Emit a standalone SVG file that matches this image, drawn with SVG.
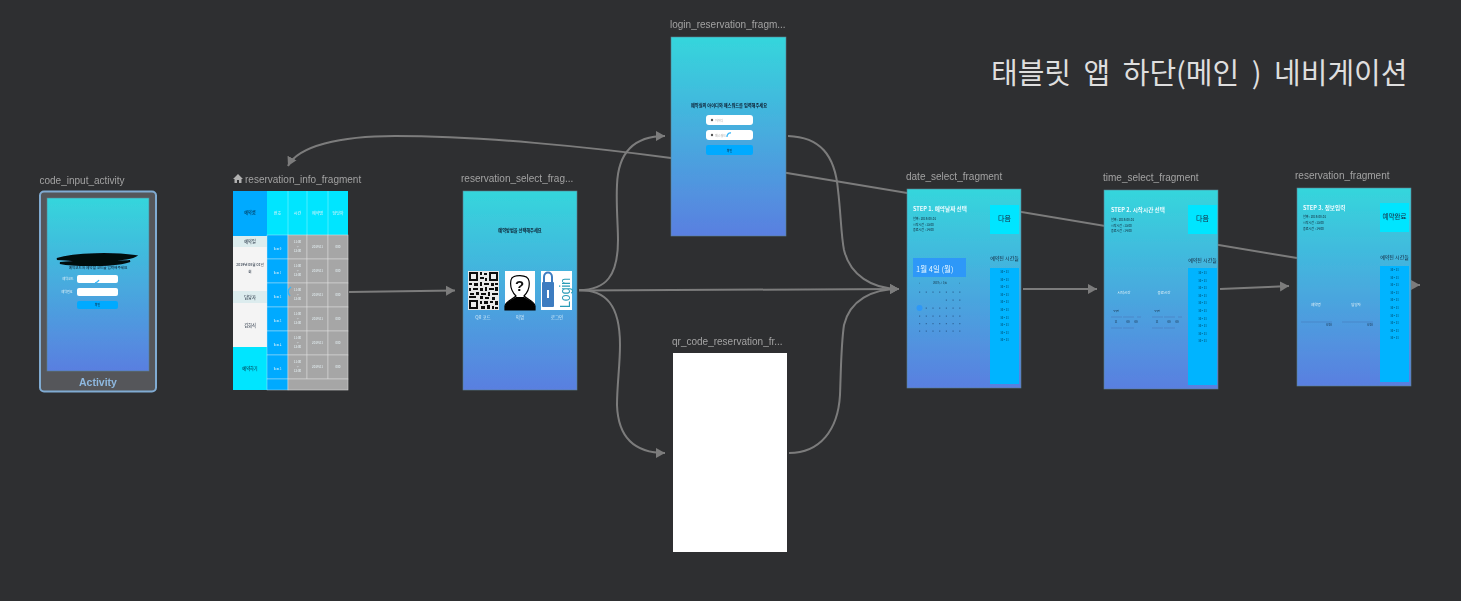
<svg xmlns="http://www.w3.org/2000/svg" xmlns:xlink="http://www.w3.org/1999/xlink" width="1461" height="601" viewBox="0 0 1461 601">
<style>
.lbl{font:10px "Liberation Sans",sans-serif;fill:#a2a2a2}
.k{font-family:"Noto Sans CJK KR","Noto Sans",sans-serif}
.conn{fill:none;stroke:#7c7c7c;stroke-width:2}
.scr{fill:url(#grad);stroke:#5c7f90;stroke-width:.6}
.t3{font-size:3px;fill:#123;text-anchor:middle}
.t3l{font-size:3px;fill:#123}
.t4{font-size:4.2px;fill:#0c1a2c;text-anchor:middle}
.t5{font-size:5px;fill:#15243a;text-anchor:middle}
.tw{font-size:3px;fill:#e8f4f8;text-anchor:middle}
.step{font-size:5.6px;font-weight:700;fill:#eefcff}
.inp{fill:#fff}
.btn{fill:#00aaff}
.list{fill:#00b4ff}
.next{fill:#00e5ff}
.hdr{fill:#00e5ff}
.gray{fill:#a6a6a6;stroke:#d8d8d8;stroke-width:.6}
.blue{fill:#00aaff;stroke:#d8ecf4;stroke-width:.4}
.spin{fill:none;stroke:#38b6f8;stroke-width:1.3}
</style>
<defs>
<linearGradient id="grad" x1="0" y1="0" x2="0" y2="1"><stop offset="0" stop-color="#35d6dc"/><stop offset="1" stop-color="#5a7fe0"/></linearGradient>
<filter id="soft" x="-5%" y="-5%" width="110%" height="110%"><feGaussianBlur stdDeviation=".65"/></filter>
<marker id="ah" markerUnits="userSpaceOnUse" markerWidth="12" markerHeight="12" refX="9" refY="5.5" orient="auto"><path d="M0,.5 L9,5.5 L0,10.5 Z" fill="#7c7c7c"/></marker>
<g id="times">
<text class="t3" x="0" y="0">10 - 11</text><text class="t3" x="0" y="7.6">10 - 11</text><text class="t3" x="0" y="15.2">10 - 11</text><text class="t3" x="0" y="22.8">10 - 11</text><text class="t3" x="0" y="30.4">10 - 11</text><text class="t3" x="0" y="38">10 - 11</text><text class="t3" x="0" y="45.6">10 - 11</text><text class="t3" x="0" y="53.2">10 - 11</text><text class="t3" x="0" y="60.8">10 - 11</text><text class="t3" x="0" y="68.4">10 - 11</text>
</g>
<g id="row">
<rect class="blue" x="267" y="0" width="21" height="24"/>
<rect class="gray" x="288" y="0" width="19" height="24"/>
<rect class="gray" x="307" y="0" width="21" height="24"/>
<rect class="gray" x="328" y="0" width="20" height="24"/>
<text class="tw k" x="297.5" y="8">11:00</text><text class="tw k" x="297.5" y="12.5">~</text><text class="tw k" x="297.5" y="17">12:00</text>
<text class="tw k" x="317.5" y="13">2019.01</text><text class="tw k" x="338" y="13">000</text>
</g>
</defs>
<rect width="1461" height="601" fill="#2e2f31"/>

<g id="connectors" filter="url(#soft)">
<path class="conn" d="M349,292 L455,290.5" marker-end="url(#ah)"/>
<path class="conn" d="M579,290 C606,290 618,276 618,240 C618,225 616,205 617,185 C618,155 632,136 665,136" marker-end="url(#ah)"/>
<path class="conn" d="M579,290 C606,290 620,305 620,345 C620,365 617,385 617,405 C618,435 632,453 665,453" marker-end="url(#ah)"/>
<path class="conn" d="M579,290.500 L899,289" marker-end="url(#ah)"/>
<path class="conn" d="M788,136 C820,137 835,155 838,190 C841,215 841,235 844,250 C850,275 872,289 899,289" marker-end="url(#ah)"/>
<path class="conn" d="M789,453 C820,453 838,430 840,395 C841,370 841,345 844,325 C850,300 872,289 899,289" marker-end="url(#ah)"/>
<path class="conn" d="M1023,289 L1097,289" marker-end="url(#ah)"/>
<path class="conn" d="M1220,289 L1289,286" marker-end="url(#ah)"/>
<path class="conn" d="M1411,285 L1420,285" marker-end="url(#ah)"/>
<path class="conn" d="M1297,258 L787,173 L671,158 C590,147 480,136 395,136 C340,136 298,146 288,166" marker-end="url(#ah)"/>
</g>

<g id="code_input_activity" filter="url(#soft)">
<text class="lbl" x="39.500" y="184">code_input_activity</text>
<rect x="40" y="191.500" width="116" height="200" rx="4" fill="#54575a" stroke="#80abd2" stroke-width="2"/>
<rect class="scr" x="47" y="198" width="102" height="173"/>
<path d="M57,259 C75,253 115,253 135,256 C125,261 100,260 85,261 C110,261 120,262 130,261 C118,266 75,266 60,263 C75,262 85,260 57,259 Z" fill="#060a10" stroke="#060a10" stroke-width="2"/>
<text class="t4 k" x="98" y="269" style="font-size:3.600px">예약코드와 예약할 코드를 입력해주세요</text>
<text class="tw k" x="68" y="280">예약코드</text><text class="tw k" x="67" y="293">예약번호</text>
<rect class="inp" x="77" y="275" width="41" height="8" rx="2"/><rect class="inp" x="77" y="288" width="41" height="8" rx="2"/>
<rect class="btn" x="77" y="301" width="41" height="8" rx="2"/><text class="t3 k" x="97.500" y="306">확인</text>
<path class="spin" d="M95,283 Q98,282 99,280"/>
<text x="98" y="386" text-anchor="middle" style="font:bold 10.500px 'Liberation Sans',sans-serif;fill:#8fb8e0">Activity</text>
</g>

<g id="reservation_info_fragment" filter="url(#soft)">
<path d="M238,174 L243,179 L241.500,179 L241.500,183 L239,183 L239,180 L237,180 L237,183 L234.500,183 L234.500,179 L233,179 Z" fill="#b0b0b0"/>
<text class="lbl" x="245" y="183">reservation_info_fragment</text>
<rect x="233" y="191" width="115" height="199" fill="#a6a6a6"/>
<rect x="233" y="191" width="34" height="45" fill="#00aaff"/>
<rect class="hdr" x="267" y="191" width="81" height="45"/>
<path d="M288,191 V236 M307,191 V236 M328,191 V236" stroke="#7ff2ff" stroke-width=".6"/>
<rect x="233" y="236" width="34" height="11" fill="#dcecee"/><rect x="233" y="247" width="34" height="44" fill="#f4f4f4"/>
<rect x="233" y="291" width="34" height="12" fill="#dcecee"/><rect x="233" y="303" width="34" height="44" fill="#f4f4f4"/>
<rect x="233" y="347" width="34" height="43" fill="#00e5ff"/>
<use href="#row" x="0" y="235"/><use href="#row" x="0" y="259"/><use href="#row" x="0" y="283"/><use href="#row" x="0" y="307"/><use href="#row" x="0" y="331"/><use href="#row" x="0" y="355"/>
<rect class="blue" x="267" y="379" width="21" height="11"/><rect class="gray" x="288" y="379" width="60" height="11"/>
<text class="t4 k" x="250" y="214">예약룸</text><text class="t4 k" x="250" y="243">예약일</text><text class="t4 k" x="250" y="266" style="font-size:3.600px">2019년 08월 01일</text><text class="t4 k" x="250" y="273" style="font-size:3.600px">회</text>
<text class="t4 k" x="250" y="299">담당자</text><text class="t4 k" x="250" y="327">김회식</text><text class="t4 k" x="250" y="370">예약하기</text>
<text class="tw k" x="277.500" y="215" style="font-size:4px">번호</text><text class="tw k" x="297.500" y="215" style="font-size:4px">시간</text><text class="tw k" x="317.500" y="215" style="font-size:4px">예약명</text><text class="tw k" x="338" y="215" style="font-size:4px">담당자</text>
<text class="tw" x="277.500" y="249.500">Item 0</text><text class="tw" x="277.500" y="273.500">Item 1</text><text class="tw" x="277.500" y="297.500">Item 2</text><text class="tw" x="277.500" y="321.500">Item 3</text><text class="tw" x="277.500" y="345.500">Item 4</text><text class="tw" x="277.500" y="369.500">Item 5</text>
<path class="spin" d="M291,287 Q286,291 290,296"/>
</g>

<g id="reservation_select_fragment" filter="url(#soft)">
<text class="lbl" x="461" y="182">reservation_select_frag...</text>
<rect class="scr" x="463" y="191" width="114" height="199"/>
<text class="t4 k" x="520" y="232" style="font-weight:700">예약방법을 선택해주세요</text>
<rect x="468" y="271" width="31" height="39" fill="#e8e8e8"/>
<path d="M469,272h9v9h-9z M489,272h9v9h-9z M469,300h9v9h-9z" fill="#111"/>
<path d="M471,274h5v5h-5z M491,274h5v5h-5z M471,302h5v5h-5z" fill="#eee"/>
<path d="M480,272h2v3h-2z M484,273h3v2h-3z M480,277h4v2h-4z M485,278h2v3h-2z M469,283h3v2h-3z M474,283h4v3h-4z M480,282h2v4h-2z M484,283h5v2h-5z M491,283h3v3h-3z M495,283h3v2h-3z M469,288h2v3h-2z M473,288h5v2h-5z M480,288h3v3h-3z M485,287h2v4h-2z M489,288h5v2h-5z M495,287h3v4h-3z M470,293h4v2h-4z M476,292h3v3h-3z M481,293h5v2h-5z M488,292h2v4h-2z M492,293h6v2h-6z M469,296h7v2h-7z M480,296h3v3h-3z M485,297h4v2h-4z M492,297h3v3h-3z M480,301h2v3h-2z M484,301h4v3h-4z M490,301h3v2h-3z M495,301h3v4h-3z M481,306h4v3h-4z M487,305h3v4h-3z M492,306h2v3h-2z M495,307h3v2h-3z" fill="#111"/>
<rect x="505" y="271" width="30" height="39" fill="#fff"/>
<path d="M505,310 V306 C506,301 512,300 516,296 C511,291 510,285 511,280 C512,274 528,274 529,281 C530,287 528,292 524,296 C528,300 534,301 535,306 V310 Z" fill="#fff" stroke="#000" stroke-width="1.200"/>
<path d="M505,310 V306 C506,301 512,300 516,297 L524,297 C528,300 534,301 535,306 V310 Z" fill="#000"/>
<text x="519.500" y="291" text-anchor="middle" style="font:bold 15px 'Liberation Sans',sans-serif;fill:#111">?</text>
<rect x="541" y="271" width="31" height="39" fill="#fff"/>
<path d="M544,282 V277 C544,271 552,271 552,277 V282" fill="none" stroke="#3c7cc0" stroke-width="2"/>
<rect x="542" y="282" width="12" height="25" rx="1" fill="#3c7cc0"/><rect x="547" y="290" width="2" height="8" fill="#fff"/>
<text transform="translate(570,308) rotate(-90)" textLength="30" lengthAdjust="spacingAndGlyphs" style="font:15px 'Liberation Sans',sans-serif;fill:#2c9cb8">Login</text>
<text class="tw k" x="483" y="319" style="font-size:4.500px;fill:#cfeaf8">QR 코드</text><text class="tw k" x="520" y="319" style="font-size:4.500px;fill:#cfeaf8">익명</text><text class="tw k" x="557" y="319" style="font-size:4.500px;fill:#cfeaf8">로그인</text>
</g>

<g id="login_reservation_fragment" filter="url(#soft)">
<text class="lbl" x="670" y="28">login_reservation_fragm...</text>
<rect class="scr" x="671" y="37" width="115" height="199"/>
<text class="t4 k" x="729" y="107" style="font-weight:700">예약실의 아이디와 패스워드를 입력해주세요</text>
<rect class="inp" x="706" y="115" width="47" height="10" rx="3"/><rect class="inp" x="706" y="130" width="47" height="10" rx="3"/>
<rect class="btn" x="706" y="145" width="47" height="10" rx="2"/><text class="t3 k" x="729.500" y="151.500">확인</text>
<text class="t3l k" x="715" y="121.500" style="fill:#aaa">아이디</text><text class="t3l k" x="715" y="136.500" style="fill:#aaa">패스워드</text>
<circle cx="712" cy="120" r="1.200" fill="#555"/><circle cx="712" cy="135" r="1.200" fill="#555"/>
<path class="spin" d="M731,133 A3.500,3.500 0 0 0 727,137"/>
</g>

<g id="qr_code_reservation_fragment" filter="url(#soft)">
<text class="lbl" x="672" y="345">qr_code_reservation_fr...</text>
<rect x="673" y="353" width="114" height="199" fill="#fff"/>
</g>

<g id="date_select_fragment" filter="url(#soft)">
<text class="lbl" x="906" y="180">date_select_fragment</text>
<rect class="scr" x="907" y="189" width="114" height="199"/>
<text class="step k" x="913" y="211">STEP 1. 예약날짜 선택</text>
<text class="t3l k" x="913" y="220">날짜 : 2019-08-01</text><text class="t3l k" x="913" y="225.500">시작시간 : 13:00</text><text class="t3l k" x="913" y="231">종료시간 : 14:00</text>
<rect class="next" x="990" y="205" width="29" height="29"/><text class="k" x="1004.500" y="221" text-anchor="middle" style="font-size:7px;fill:#15243a">다음</text>
<text class="t5 k" x="1004.500" y="260">예약된 시간들</text>
<rect class="list" x="990" y="268" width="29" height="116"/><use href="#times" x="1004.500" y="273"/>
<rect x="913" y="258" width="53" height="19" fill="#2d98f8"/>
<text class="k" x="916" y="272" style="font-size:7.500px;fill:#e8f6ff">1월 4일 (월)</text>
<text class="t3" x="940" y="284">2019년 1월</text>
<text class="t3" x="919.500" y="284">‹</text><text class="t3" x="959.500" y="284">›</text>
<g fill="#2a5a8c" opacity=".8">
<path d="M919,291.500h1.200v1.200h-1.200z M925.700,291.500h1.200v1.200h-1.200z M932.400,291.500h1.200v1.200h-1.200z M939.100,291.500h1.200v1.200h-1.200z M945.800,291.500h1.200v1.200h-1.200z M952.500,291.500h1.200v1.200h-1.200z M959.200,291.500h1.200v1.200h-1.200z"/>
<path d="M945.800,299.500h1.200v1.200h-1.200z M952.500,299.500h1.200v1.200h-1.200z M959.200,299.500h1.200v1.200h-1.200z"/>
<path d="M925.700,307.500h1.200v1.200h-1.200z M932.400,307.500h1.200v1.200h-1.200z M939.100,307.500h1.200v1.200h-1.200z M945.800,307.500h1.200v1.200h-1.200z M952.500,307.500h1.200v1.200h-1.200z M959.200,307.500h1.200v1.200h-1.200z"/>
<path d="M919,315.500h1.200v1.200h-1.200z M925.700,315.500h1.200v1.200h-1.200z M932.400,315.500h1.200v1.200h-1.200z M939.100,315.500h1.200v1.200h-1.200z M945.800,315.500h1.200v1.200h-1.200z M952.500,315.500h1.200v1.200h-1.200z M959.200,315.500h1.200v1.200h-1.200z"/>
<path d="M919,323h1.200v1.200h-1.200z M925.700,323h1.200v1.200h-1.200z M932.400,323h1.200v1.200h-1.200z M939.100,323h1.200v1.200h-1.200z M945.800,323h1.200v1.200h-1.200z M952.500,323h1.200v1.200h-1.200z M959.200,323h1.200v1.200h-1.200z"/>
<path d="M919,330.500h1.200v1.200h-1.200z M925.700,330.500h1.200v1.200h-1.200z M932.400,330.500h1.200v1.200h-1.200z M939.100,330.500h1.200v1.200h-1.200z M945.800,330.500h1.200v1.200h-1.200z M952.500,330.500h1.200v1.200h-1.200z M959.200,330.500h1.200v1.200h-1.200z"/>
</g>
<circle cx="919.500" cy="308" r="3" fill="#2d98f8"/>
</g>

<g id="time_select_fragment" filter="url(#soft)">
<text class="lbl" x="1103" y="181">time_select_fragment</text>
<rect class="scr" x="1104" y="190" width="114" height="199"/>
<text class="step k" x="1111" y="212">STEP 2. 시작시간 선택</text>
<text class="t3l k" x="1111" y="221">날짜 : 2019-08-01</text><text class="t3l k" x="1111" y="226.500">시작시간 : 13:00</text><text class="t3l k" x="1111" y="232">종료시간 : 14:00</text>
<rect class="next" x="1188" y="205" width="29" height="29"/><text class="k" x="1202.500" y="221" text-anchor="middle" style="font-size:7px;fill:#15243a">다음</text>
<text class="t5 k" x="1202.500" y="262">예약된 시간들</text>
<rect class="list" x="1188" y="268" width="29" height="117"/><use href="#times" x="1202.500" y="274"/>
<text class="tw k" x="1124" y="294" style="font-size:3.500px">시작시간</text><text class="tw k" x="1164" y="294" style="font-size:3.500px">종료시간</text>
<path d="M1111,317h11M1123,317h11M1137,317h4M1111,328h11M1123,328h11M1152,317h11M1164,317h11M1178,317h4M1152,328h11M1164,328h11" stroke="#4b7fc0" stroke-width=".7"/>
<text class="t3" x="1116" y="312">오전</text><text class="t3" x="1116" y="323">11</text><text class="t3" x="1128" y="323">00</text><text class="t3" x="1136" y="323">00</text><text class="t3" x="1157" y="312">오전</text><text class="t3" x="1157" y="323">11</text><text class="t3" x="1169" y="323">00</text><text class="t3" x="1177" y="323">00</text>
</g>

<g id="reservation_fragment" filter="url(#soft)">
<text class="lbl" x="1295" y="179">reservation_fragment</text>
<rect class="scr" x="1297" y="188" width="114" height="198"/>
<text class="step k" x="1303" y="210">STEP 3. 정보입력</text>
<text class="t3l k" x="1303" y="218">날짜 : 2019-08-01</text><text class="t3l k" x="1303" y="224">시작시간 : 13:00</text><text class="t3l k" x="1303" y="230">종료시간 : 14:00</text>
<rect class="next" x="1380" y="203" width="29" height="29"/><text class="k" x="1394.500" y="219" text-anchor="middle" style="font-size:6.500px;fill:#15243a">예약완료</text>
<text class="t5 k" x="1394.500" y="259">예약된 시간들</text>
<rect class="list" x="1380" y="266" width="29" height="116"/><use href="#times" x="1394.500" y="271"/>
<text class="tw k" x="1316" y="306" style="font-size:3.500px">예약명</text><text class="tw k" x="1356" y="306" style="font-size:3.500px">담당자</text>
<path d="M1301,322h31M1342,322h31" stroke="#4b7fc0" stroke-width=".7"/>
<text class="t3" x="1329" y="326">0/20</text><text class="t3" x="1370" y="326">0/20</text>
</g>

<text id="title" class="k" x="991" y="84" style="font-size:29px;word-spacing:6px;fill:#dedede">태블릿 앱 하단(메인 ) 네비게이션</text>
</svg>
